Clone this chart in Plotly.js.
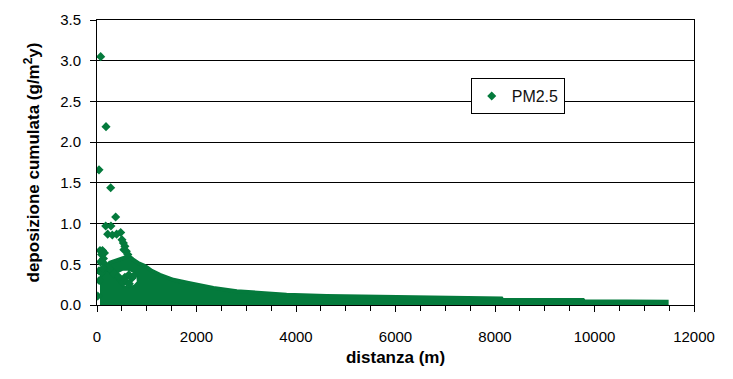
<!DOCTYPE html>
<html>
<head>
<meta charset="utf-8">
<script src="https://cdn.plot.ly/plotly-3.0.1.min.js"></script>
<style>html,body{margin:0;padding:0;background:#fff;}#chart{width:733px;height:379px;}</style>
</head>
<body>
<div id="chart"></div>
<script>
// Scattered (isolated) readings: distance (m) and cumulated deposition (g/m2y)
const pointDist = [74, 181, 40, 275, 375, 175, 280, 215, 308, 395, 476, 502, 530, 560, 540, 590, 620,
  14, 60, 110, 150, 90, 130, 70, 160, 40, 90, 200, 300, 350, 250, 120, 45,
  470, 560, 640, 700, 520, 600, 430, 650, 740];
const pointDep = [3.05, 2.19, 1.66, 1.44, 1.08, 0.97, 0.97, 0.87, 0.86, 0.87, 0.89, 0.80, 0.76, 0.72, 0.68, 0.66, 0.62,
  0.11, 0.67, 0.67, 0.64, 0.62, 0.57, 0.53, 0.50, 0.42, 0.40, 0.47, 0.42, 0.38, 0.45, 0.45, 0.30,
  0.31, 0.34, 0.37, 0.33, 0.27, 0.28, 0.35, 0.26, 0.36];

// Dense cloud of readings: outline (upper envelope, then back along zero)
const cloudDist = [60, 120, 200, 260, 370, 470, 560, 640, 720, 840, 965, 1100, 1265, 1535, 1840, 2340, 2810,
  3275, 3810, 4615, 5890, 7700, 8130, 8150, 9770, 9790, 11450, 11450, 60];
const cloudDep = [0.36, 0.40, 0.45, 0.52, 0.54, 0.56, 0.58, 0.60, 0.56, 0.51, 0.48, 0.42, 0.37, 0.31, 0.27, 0.21, 0.17,
  0.145, 0.125, 0.11, 0.095, 0.08, 0.08, 0.06, 0.06, 0.045, 0.04, 0.0, 0.0];

// Empty pocket inside the cloud
const gapDist = [420, 520, 620, 720, 790, 800, 740, 640, 540, 450, 400];
const gapDep = [0.39, 0.42, 0.42, 0.40, 0.35, 0.29, 0.25, 0.23, 0.24, 0.28, 0.34];

const seriesName = 'PM2.5';
const xTickVals = [0, 2000, 4000, 6000, 8000, 10000, 12000];
const yTickVals = [0, 0.5, 1.0, 1.5, 2.0, 2.5, 3.0, 3.5];

const green = '#047a3c';
const font = '"Liberation Sans", Arial, sans-serif';

const traces = [
  {x: cloudDist, y: cloudDep, type: 'scatter', mode: 'lines', fill: 'toself',
   fillcolor: green, line: {color: green, width: 4}, showlegend: false, hoverinfo: 'skip'},
  {x: gapDist, y: gapDep, type: 'scatter', mode: 'lines', fill: 'toself',
   fillcolor: '#ffffff', line: {color: '#ffffff', width: 0}, showlegend: false, hoverinfo: 'skip'},
  {x: pointDist, y: pointDep, type: 'scatter', mode: 'markers', name: seriesName,
   marker: {symbol: 'diamond', size: 7, color: green}}
];

const layout = {
  width: 733, height: 379,
  margin: {l: 97, r: 39, t: 20, b: 74},
  paper_bgcolor: '#ffffff', plot_bgcolor: '#ffffff',
  font: {family: font, size: 15, color: '#000'},
  showlegend: true,
  legend: {x: 0.626, y: 0.796, xanchor: 'left', yanchor: 'top',
    bgcolor: '#ffffff', bordercolor: '#000', borderwidth: 1,
    font: {family: font, size: 16, color: '#111'}},
  xaxis: {
    range: [0, 12000], tickvals: xTickVals, ticktext: xTickVals.map(String),
    ticks: 'outside', ticklen: 6, tickcolor: '#000', tickwidth: 1,
    minor: {dtick: 500, ticks: 'outside', ticklen: 5, tickcolor: '#000', showgrid: false},
    showline: true, linecolor: '#000', linewidth: 1, mirror: true,
    showgrid: false, zeroline: false, ticklabelstandoff: 12,
    title: {text: '<b>distanza (m)</b>', font: {family: font, size: 17, color: '#000'}, standoff: 7}
  },
  yaxis: {
    range: [0, 3.5], tickvals: yTickVals, ticktext: yTickVals.map(v => v.toFixed(1)),
    ticks: 'outside', ticklen: 6, tickcolor: '#000', tickwidth: 1,
    showline: true, linecolor: '#000', linewidth: 1, mirror: true,
    showgrid: true, gridcolor: '#000', gridwidth: 1, zeroline: false, ticklabelstandoff: 6,
    title: {text: '<b>deposizione cumulata (g/m<sup>2</sup>y)</b>', font: {family: font, size: 17, color: '#000'}, standoff: 16}
  }
};

Plotly.newPlot('chart', traces, layout, {displayModeBar: false, staticPlot: true});
</script>
</body>
</html>
